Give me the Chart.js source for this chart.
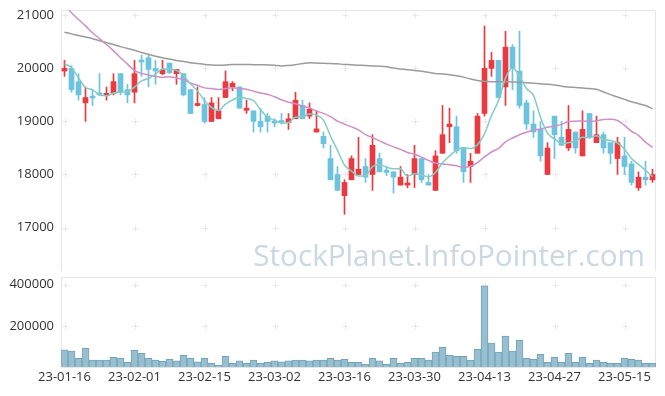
<!DOCTYPE html>
<html><head><meta charset="utf-8">
<script src="https://cdn.jsdelivr.net/npm/chart.js@4.4.0/dist/chart.umd.min.js"></script>
<style>
html,body{margin:0;padding:0;background:#fff;}
#wrap{position:relative;width:665px;height:396px;overflow:hidden;}
canvas{position:absolute;left:0;}
#price{top:0;}
#vol{top:272px;}
</style></head><body>
<div id="wrap"><canvas id="price" width="665" height="272"></canvas><canvas id="vol" width="665" height="124"></canvas></div>
<script>
const dates = ['23-01-16','23-01-17','23-01-18','23-01-19','23-01-20','23-01-25','23-01-26','23-01-27','23-01-30','23-01-31',
'23-02-01','23-02-02','23-02-03','23-02-06','23-02-07','23-02-08','23-02-09','23-02-10','23-02-13','23-02-14',
'23-02-15','23-02-16','23-02-17','23-02-20','23-02-21','23-02-22','23-02-23','23-02-24','23-02-27','23-02-28',
'23-03-02','23-03-03','23-03-06','23-03-07','23-03-08','23-03-09','23-03-10','23-03-13','23-03-14','23-03-15',
'23-03-16','23-03-17','23-03-20','23-03-21','23-03-22','23-03-23','23-03-24','23-03-27','23-03-28','23-03-29',
'23-03-30','23-03-31','23-04-03','23-04-04','23-04-05','23-04-06','23-04-07','23-04-10','23-04-11','23-04-12',
'23-04-13','23-04-14','23-04-17','23-04-18','23-04-19','23-04-20','23-04-21','23-04-24','23-04-25','23-04-26',
'23-04-27','23-04-28','23-05-02','23-05-03','23-05-04','23-05-08','23-05-09','23-05-10','23-05-11','23-05-12',
'23-05-15','23-05-16','23-05-17','23-05-18','23-05-19'];

const open = [19950,20000,19750,19350,19460,19530,19490,19530,19900,19600,
19550,20150,20200,20000,19900,20100,19900,19900,19600,19300,
19320,19000,19050,19450,19650,19650,19210,19200,19000,19100,
19000,19000,18980,19050,19300,19100,18800,18720,18300,18000,
17600,17900,18000,18150,18000,18300,18080,18050,17800,17800,
18000,18300,17850,17700,18400,18900,18900,18500,18150,18400,
19150,20000,20150,19650,20400,19950,19350,18950,18850,18000,
19100,18700,18500,18800,18350,19150,18600,18750,18600,18300,
18350,18200,17750,17950,17900];

const high = [20150,20050,19900,19650,19600,19900,19650,19900,19900,19700,
20150,20250,20250,20150,20150,20100,19980,19900,19600,19650,
19450,19450,19450,19950,19750,19650,19400,19200,19250,19150,
19050,19150,19150,19550,19400,19350,19200,18800,18550,18150,
17900,18350,18700,18300,18750,18400,18150,18050,18150,18000,
18550,18300,18000,18450,19300,19250,19100,18500,18400,19150,
20800,20300,20150,20700,20450,20700,19400,19200,19000,18600,
19100,19000,19300,18800,19200,19150,19100,18800,18600,18700,
18700,18250,18050,18250,18100];

const low = [19850,19550,19400,19000,19300,19490,19400,19500,19500,19350,
19350,19850,19650,19700,19880,19900,19700,19480,19150,19290,
18970,19000,19050,19450,19580,19250,19150,18800,18800,18800,
18900,18950,18850,19050,19050,19050,18800,18500,17900,17700,
17250,17900,18000,17850,17700,18050,17980,17650,17800,17750,
17750,17850,17800,17700,18400,18600,18400,17850,17850,18400,
19100,19850,19450,19300,19600,19250,18850,18700,18250,18000,
18300,18550,18450,18400,18350,18700,18600,18400,18200,18000,
18000,17800,17700,17800,17850];

const close = [20000,19600,19500,19450,19440,19500,19530,19750,19550,19500,
19900,20120,19980,19950,19980,19920,19980,19500,19150,19330,
19000,19350,19200,19750,19720,19250,19250,19000,18900,19000,
18970,18980,19050,19400,19050,19230,18860,18580,17900,17700,
17850,18300,18100,17950,18550,18050,18040,17950,17950,17840,
18300,17900,17800,18350,18750,18950,18450,18050,18250,19100,
20000,20150,19450,20400,20000,19300,18950,18800,18350,18500,
18750,18550,18850,18500,18850,18700,18750,18500,18400,18600,
18150,17850,17950,17900,18000];

const volume = [83000,78000,42000,91000,34000,34000,34000,47000,42000,23000,
81000,67000,42000,34000,28000,37000,30000,57000,42000,25000,
42000,18000,8000,52000,18000,30000,18000,34000,18000,23000,
30000,25000,30000,34000,34000,30000,34000,34000,42000,34000,
37000,23000,23000,13000,42000,30000,13000,42000,18000,23000,
42000,42000,34000,72000,96000,57000,52000,52000,34000,86000,
395000,116000,72000,150000,77000,130000,42000,37000,62000,23000,
47000,23000,67000,23000,47000,18000,34000,23000,18000,18000,
42000,37000,34000,18000,18000];

const ma5 = [20090,20010,19820,19640,19598,19498,19484,19534,19554,19566,
19646,19764,19810,19890,19986,19990,19962,19866,19706,19576,
19392,19266,19206,19326,19404,19454,19434,19394,19224,19080,
19024,18970,18980,19080,19090,19142,19118,19024,18724,18454,
18178,18066,17970,17980,18150,18190,18138,18108,18108,17966,
18016,17988,17958,18038,18220,18350,18460,18510,18490,18560,
18770,19110,19390,19820,20000,19860,19620,19490,19080,18780,
18670,18590,18600,18630,18700,18690,18730,18660,18640,18590,
18480,18300,18190,18080,17960];

const ma20 = [21200,21050,20920,20800,20670,20560,20450,20330,20200,20080,
19960,19905,19875,19845,19830,19843,19817,19790,19720,19682,
19632,19619,19604,19619,19633,19621,19607,19569,19537,19512,
19465,19408,19362,19334,19288,19253,19197,19151,19089,19007,
18950,18897,18842,18752,18694,18634,18573,18521,18473,18415,
18382,18328,18265,18213,18198,18184,18163,18137,18154,18224,
18332,18424,18492,18614,18687,18749,18795,18837,18857,18890,
18913,18945,18998,19005,19010,18998,19013,19035,19043,19018,
18925,18813,18738,18610,18510];

const ma120 = [20680,20650,20620,20590,20560,20520,20485,20450,20410,20375,
20340,20300,20265,20230,20200,20175,20150,20130,20105,20090,
20075,20065,20060,20065,20075,20075,20075,20070,20070,20065,
20060,20045,20055,20070,20090,20105,20100,20095,20090,20085,
20075,20070,20060,20055,20045,20040,20030,20005,19990,19975,
19960,19945,19925,19905,19895,19880,19860,19835,19800,19770,
19755,19750,19750,19750,19745,19740,19730,19720,19710,19700,
19685,19665,19650,19640,19630,19620,19605,19555,19505,19460,
19415,19370,19335,19300,19240];

const priceTicks = [17000, 18000, 19000, 20000, 21000];
const volumeTicks = [200000, 400000];
const watermark = 'StockPlanet.InfoPointer.com';

const UP = '#ea3a3f', DOWN = '#6cc3dd';
const FONT = {family: '"Open Sans", "Noto Sans", sans-serif', size: 13};
const TEXT = '#333333';
const FRAME = '#e6e6e6';
const CROSS = '#e8e8e8';

const wickData = dates.map((d, i) => [low[i], high[i]]);
const bodyData = dates.map((d, i) => [open[i], close[i]]);
const candleColor = dates.map((d, i) => close[i] >= open[i] ? UP : DOWN);

function framePlugin(sides) {
  return {
    id: 'frame',
    beforeDatasetsDraw(chart) {
      const {ctx, chartArea: a, scales} = chart;
      const yS = scales.y, xS = scales.x;
      ctx.save();
      ctx.strokeStyle = CROSS; ctx.lineWidth = 1;
      yS.ticks.forEach(t => {
        const py = Math.round(yS.getPixelForValue(t.value)) + 0.5;
        dates.forEach((d, i) => {
          if (i % 10 !== 0) return;
          const px = Math.round(xS.getPixelForValue(i)) + 0.5;
          ctx.beginPath();
          ctx.moveTo(px - 3, py); ctx.lineTo(px + 3, py);
          ctx.moveTo(px, py - 3); ctx.lineTo(px, py + 3);
          ctx.stroke();
        });
      });
      ctx.strokeStyle = FRAME;
      const l = Math.floor(a.left) + 0.5, r = Math.floor(a.right) - 0.5;
      const t = Math.floor(a.top) + 0.5, b = Math.floor(a.bottom) + 0.5;
      ctx.beginPath();
      if (sides.includes('top')) { ctx.moveTo(l, t); ctx.lineTo(r, t); }
      if (sides.includes('left')) { ctx.moveTo(l, t); ctx.lineTo(l, b); }
      if (sides.includes('right')) { ctx.moveTo(r, t); ctx.lineTo(r, b); }
      if (sides.includes('bottom')) { ctx.moveTo(l, b); ctx.lineTo(r, b); }
      ctx.stroke();
      ctx.restore();
    }
  };
}

const watermarkPlugin = {
  id: 'watermark',
  beforeDatasetsDraw(chart) {
    const ctx = chart.ctx;
    ctx.save();
    ctx.font = '100px "Open Sans", sans-serif';
    const w = ctx.measureText(watermark).width;
    const size = 100 * 392 / w;
    ctx.font = size + 'px "Open Sans", sans-serif';
    ctx.fillStyle = '#c9d8e3';
    ctx.textAlign = 'right';
    ctx.textBaseline = 'alphabetic';
    ctx.fillText(watermark, 645, 266);
    ctx.restore();
  }
};

function yFit(scale) { scale.width = 61; scale.paddingTop = 0; scale.paddingBottom = 0; }
function plainTick(v) { return String(v); }

new Chart(document.getElementById('price'), {
  type: 'bar',
  data: {
    labels: dates,
    datasets: [
      {type: 'line', data: ma5, borderColor: '#86cbc5', borderWidth: 1.5, pointRadius: 0, cubicInterpolationMode: 'monotone'},
      {type: 'line', data: ma20, borderColor: '#cd8fc7', borderWidth: 1.5, pointRadius: 0, cubicInterpolationMode: 'monotone'},
      {type: 'line', data: ma120, borderColor: '#9b9b9b', borderWidth: 1.5, pointRadius: 0, cubicInterpolationMode: 'monotone'},
      {data: bodyData, backgroundColor: candleColor, barThickness: 5, minBarLength: 2, grouped: false},
      {data: wickData, backgroundColor: candleColor, barThickness: 1, grouped: false}
    ]
  },
  options: {
    responsive: false, animation: false, devicePixelRatio: 1,
    layout: {padding: {top: 10, right: 9, bottom: 2, left: 0}},
    plugins: {legend: {display: false}, tooltip: {enabled: false}},
    scales: {
      x: {display: false, offset: true},
      y: {
        min: 16200, max: 21100,
        afterBuildTicks(s) { s.ticks = priceTicks.map(v => ({value: v})); },
        afterFit: yFit,
        grid: {display: false, drawTicks: false}, border: {display: false},
        ticks: {font: FONT, color: TEXT, padding: 7, callback: plainTick}
      }
    }
  },
  plugins: [framePlugin(['top', 'left', 'right']), watermarkPlugin]
});

new Chart(document.getElementById('vol'), {
  type: 'bar',
  data: {
    labels: dates,
    datasets: [
      {data: volume, backgroundColor: '#98bfcf', borderColor: '#74a3b8', borderWidth: 1, barPercentage: 1, categoryPercentage: 1}
    ]
  },
  options: {
    responsive: false, animation: false, devicePixelRatio: 1,
    layout: {padding: {top: 5, right: 9, bottom: 0, left: 0}},
    plugins: {legend: {display: false}, tooltip: {enabled: false}},
    scales: {
      x: {
        offset: true,
        afterFit(s) { s.height = 29; s.paddingLeft = 0; s.paddingRight = 0; },
        grid: {display: false, drawTicks: false}, border: {display: false},
        ticks: {font: FONT, color: TEXT, padding: 2, autoSkip: false, maxRotation: 0, minRotation: 0,
          callback(v, i) { return i % 10 === 0 ? dates[i] : ''; }}
      },
      y: {
        min: 0, max: 437600,
        afterBuildTicks(s) { s.ticks = volumeTicks.map(v => ({value: v})); },
        afterFit: yFit,
        grid: {display: false, drawTicks: false}, border: {display: false},
        ticks: {font: FONT, color: TEXT, padding: 7, callback: plainTick}
      }
    }
  },
  plugins: [framePlugin(['top', 'left', 'right', 'bottom'])]
});
</script>
</body></html>
